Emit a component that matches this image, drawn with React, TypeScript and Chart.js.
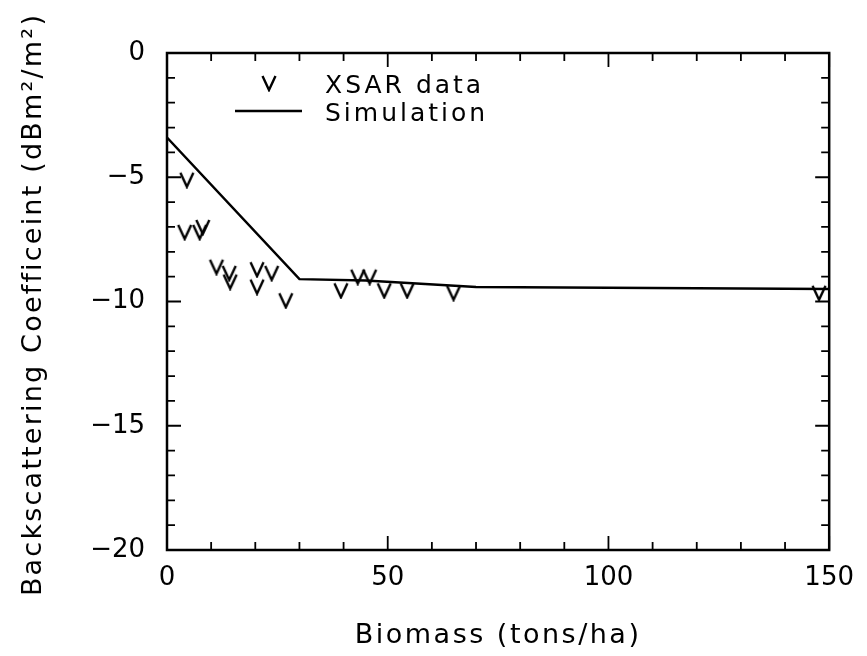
import { useEffect, useRef } from "react";
import { Chart, registerables } from "chart.js";

Chart.register(...registerables);

// Observed XSAR backscatter versus biomass
const biomassObs = [4.5, 4.0, 7.4, 8.1, 11.2, 14.1, 14.3, 20.4, 23.7, 20.4, 26.9, 39.4, 43.2, 45.9, 49.2, 54.4, 64.9, 147.7];
const sigmaObs = [-5.1, -7.2, -7.2, -7.0, -8.6, -8.85, -9.2, -8.7, -8.85, -9.4, -9.95, -9.55, -9.0, -9.0, -9.55, -9.55, -9.65, -9.65];

// Simulated backscatter curve
const biomassSim = [0, 30, 45, 70, 150];
const sigmaSim = [-3.4, -9.1, -9.15, -9.42, -9.5];

// Axis ticks
const xTickValues = [0, 50, 100, 150];
const yTickValues = [-20, -15, -10, -5, 0];
const xMinorStep = 10;
const yMinorStep = 1;

const obsLabel = "XSAR data";
const simLabel = "Simulation";
const xTitle = "Biomass (tons/ha)";
const yTitle = "Backscattering Coefficeint (dBm\u00b2/m\u00b2)";

const FONT = '"DejaVu Sans", sans-serif';

// "V" glyph used as the point marker
function makeVee(): HTMLCanvasElement {
  const c = document.createElement("canvas");
  c.width = 18;
  c.height = 18;
  const g = c.getContext("2d")!;
  g.strokeStyle = "#000";
  g.lineWidth = 2.4;
  g.lineJoin = "miter";
  g.beginPath();
  g.moveTo(2.5, 2);
  g.lineTo(9, 16);
  g.lineTo(15.5, 2);
  g.stroke();
  return c;
}

function minusFmt(v: number): string {
  return v < 0 ? "\u2212" + Math.abs(v) : String(v);
}

export default function App() {
  const canvasRef = useRef<HTMLCanvasElement | null>(null);

  useEffect(() => {
    const canvas = canvasRef.current;
    if (!canvas) return;
    const vee = makeVee();

    const framePlugin = {
      id: "frameAndText",
      afterDatasetsDraw(chart: any) {
        const { ctx, chartArea: a, scales } = chart;
        const xs = scales.x;
        const ys = scales.y;
        ctx.save();
        ctx.strokeStyle = "#000";
        ctx.lineWidth = 2.5;
        ctx.strokeRect(a.left, a.top, a.right - a.left, a.bottom - a.top);

        // inward ticks on all four sides
        ctx.lineWidth = 1.8;
        ctx.beginPath();
        for (let v = xs.min; v <= xs.max + 1e-9; v += xMinorStep) {
          const px = xs.getPixelForValue(v);
          const len = xTickValues.includes(v) ? 14 : 8;
          ctx.moveTo(px, a.bottom);
          ctx.lineTo(px, a.bottom - len);
          ctx.moveTo(px, a.top);
          ctx.lineTo(px, a.top + len);
        }
        for (let v = ys.min; v <= ys.max + 1e-9; v += yMinorStep) {
          const py = ys.getPixelForValue(v);
          const len = yTickValues.includes(v) ? 14 : 8;
          ctx.moveTo(a.left, py);
          ctx.lineTo(a.left + len, py);
          ctx.moveTo(a.right, py);
          ctx.lineTo(a.right - len, py);
        }
        ctx.stroke();

        // legend
        ctx.fillStyle = "#000";
        (ctx as any).letterSpacing = "3px";
        ctx.font = `25px ${FONT}`;
        ctx.textAlign = "left";
        ctx.textBaseline = "alphabetic";
        const lx = a.left + 68;
        const ly = a.top + 30;
        ctx.drawImage(vee, lx + 25, ly - 9);
        ctx.fillText(obsLabel, lx + 90, ly + 10);
        ctx.lineWidth = 2.5;
        ctx.beginPath();
        ctx.moveTo(lx, ly + 28);
        ctx.lineTo(lx + 67, ly + 28);
        ctx.stroke();
        ctx.fillText(simLabel, lx + 90, ly + 38);

        // axis titles
        (ctx as any).letterSpacing = "2.5px";
        ctx.font = `27px ${FONT}`;
        ctx.textAlign = "center";
        ctx.fillText(xTitle, (a.left + a.right) / 2, 643);
        ctx.translate(41, (a.top + a.bottom) / 2 + 3);
        ctx.rotate(-Math.PI / 2);
        (ctx as any).letterSpacing = "2.2px";
        ctx.fillText(yTitle, 0, 0);
        ctx.restore();
      },
    };

    const chart = new Chart(canvas, {
      type: "scatter",
      data: {
        datasets: [
          {
            type: "line",
            label: simLabel,
            data: biomassSim.map((x, i) => ({ x, y: sigmaSim[i] })),
            borderColor: "#000",
            borderWidth: 2.5,
            pointRadius: 0,
            tension: 0,
            fill: false,
          },
          {
            type: "scatter",
            label: obsLabel,
            data: biomassObs.map((x, i) => ({ x, y: sigmaObs[i] })),
            pointStyle: vee,
            pointRadius: 9,
            borderColor: "#000",
            backgroundColor: "#000",
          },
        ],
      } as any,
      options: {
        responsive: false,
        animation: false,
        layout: { padding: { top: 53, right: 30, left: 0, bottom: 0 } },
        plugins: { legend: { display: false }, tooltip: { enabled: false } },
        scales: {
          x: {
            type: "linear",
            min: 0,
            max: 150,
            grid: { display: false, drawTicks: false },
            border: { display: false },
            afterBuildTicks: (s: any) => {
              s.ticks = xTickValues.map((value) => ({ value }));
            },
            afterFit: (s: any) => {
              s.height = 106;
            },
            ticks: {
              font: { family: FONT, size: 26 },
              color: "#000",
              padding: 13,
              maxRotation: 0,
              autoSkip: false,
              callback: (v: any) => minusFmt(Number(v)),
            },
          },
          y: {
            type: "linear",
            min: -20,
            max: 0,
            grid: { display: false, drawTicks: false },
            border: { display: false },
            afterBuildTicks: (s: any) => {
              s.ticks = yTickValues.map((value) => ({ value }));
            },
            afterFit: (s: any) => {
              s.width = 167;
            },
            ticks: {
              font: { family: FONT, size: 26 },
              color: "#000",
              padding: 22,
              autoSkip: false,
              callback: (v: any) => minusFmt(Number(v)),
            },
          },
        },
      } as any,
      plugins: [framePlugin],
    });
    return () => chart.destroy();
  }, []);

  return (
    <div style={{ position: "fixed", left: 0, top: 0, width: 867, height: 656, background: "#fff" }}>
      <canvas ref={canvasRef} width={867} height={656} style={{ display: "block" }} />
    </div>
  );
}
